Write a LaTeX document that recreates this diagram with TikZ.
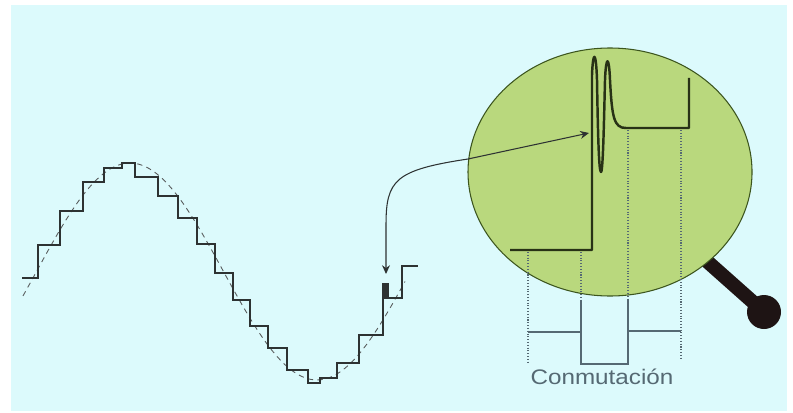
\documentclass[tikz,border=0pt]{standalone}
\usepackage{fontspec}
\newfontfamily\widesans[FakeStretch=1.15]{Liberation Sans}
\usetikzlibrary{arrows.meta}
\definecolor{fondo}{RGB}{220,250,252}
\definecolor{lupa}{RGB}{185,216,125}
\definecolor{bordelupa}{RGB}{60,85,30}
\definecolor{mango}{RGB}{30,20,20}
\definecolor{traza}{RGB}{45,50,50}
\definecolor{trazalupa}{RGB}{40,50,22}
\definecolor{guia}{RGB}{85,105,115}

\begin{document}
\begin{tikzpicture}[x=0.02cm,y=-0.02cm,
  escalon/.style={traza,line width=1.5pt,line join=miter},
  senal/.style={traza!80,line width=0.5pt,dash pattern=on 3pt off 2.5pt},
  guiapunt/.style={guia,line width=0.6pt,densely dotted},
  cota/.style={guia,line width=0.6pt},
  flecha/.style={traza,line width=0.6pt,{Stealth[length=5pt,width=4.5pt]}-{Stealth[length=5pt,width=4.5pt]}}]
\useasboundingbox (0,0) rectangle (793,412);
\fill[fondo] (11,5) rectangle (787,411);
% senal de referencia
\draw[senal,domain=23:405,samples=90] plot (\x,{271.5-108.5*sin(0.9626*(\x-36.5))});
% salida escalonada
\draw[escalon] (22,278) -| (38,245) -| (60,211) -| (83,182) -| (104,168) -| (122,163)
  -| (135,177) -| (158,196) -| (178,218) -| (197,244) -| (215,273) -| (233,300)
  -| (250,326) -| (268,348) -| (287,370) -| (308,383) -| (320,378) -| (337,363)
  -| (359,335) -| (383,298) -| (402,266) -- (418,266);
\fill[traza] (382,283) rectangle (389,298);
% lupa
\draw[mango,line width=8pt,line cap=round] (700,255) -- (763,311);
\fill[mango] (764,312) circle (17);
\draw[bordelupa,fill=lupa,line width=0.6pt] (610,172) ellipse [x radius=142, y radius=124];
\draw[trazalupa,line width=1.4pt,line join=round] (510,250) -- (592,250) -- (592,75)
  .. controls (593,50) and (596,50) .. (597,80) .. controls (598,140) and (599,172) .. (601,172)
  .. controls (603,172) and (604,120) .. (605,80) .. controls (606,55) and (609,55) .. (610,80)
  .. controls (612,118) and (614,128) .. (626,128) -- (689,128) -- (689,78);
% cotas
\draw[guiapunt] (528,252) -- (528,362);
\draw[guiapunt] (581,252) -- (581,300);
\draw[guiapunt] (628,130) -- (628,300);
\draw[guiapunt] (681,130) -- (681,360);
\draw[cota] (528,332) -- (581,332);
\draw[cota] (628,331) -- (681,331);
\draw[cota] (581,300) -- (581,364) -- (628,364) -- (628,300);
\node[guia,font=\widesans\fontsize{12}{14}\selectfont] (rotulo) at (602,377) {Conmutación};
% flecha al detalle
\coordinate (detalle) at (386,274);
\coordinate (pico) at (589,133);
\draw[flecha] (detalle) -- (386,225) .. controls (386,180) and (395,170) .. (468,159) -- (pico);
\end{tikzpicture}
\end{document}
